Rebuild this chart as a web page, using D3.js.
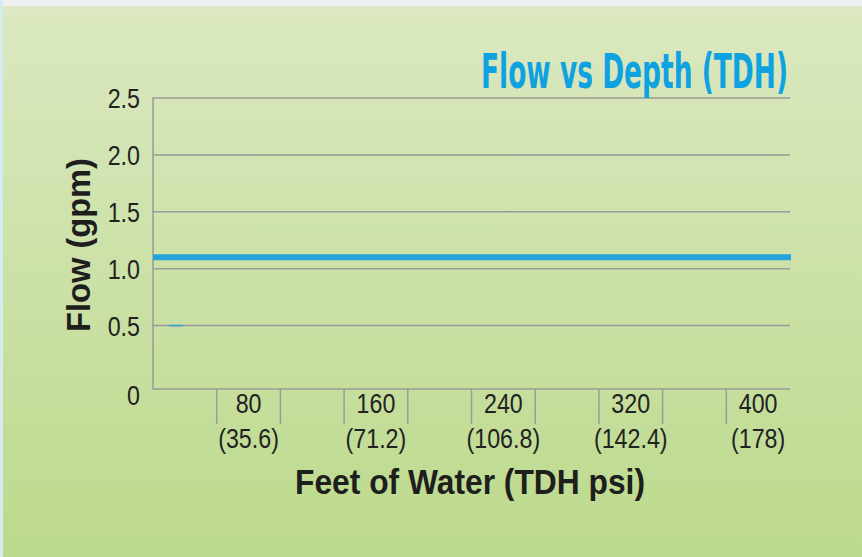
<!DOCTYPE html>
<html>
<head>
<meta charset="utf-8">
<script src="https://cdn.jsdelivr.net/npm/d3@7"></script>
<style>
  body { margin: 0; padding: 0; background: #eef0f2; }
  svg { display: block; }
</style>
</head>
<body>
<div id="chart"></div>
<script>
var width = 862;
var height = 557;

// data
var depthFeet = [80, 160, 240, 320, 400];
var depthPsi = ["(35.6)", "(71.2)", "(106.8)", "(142.4)", "(178)"];
var flowValues = [1.1, 1.1, 1.1, 1.1, 1.1];
var yTicks = [0, 0.5, 1.0, 1.5, 2.0, 2.5];

var plotLeft = 153, plotRight = 790, plotTop = 98, zeroY = 382.5, baseY = 389;

var svg = d3.select("#chart")
  .append("svg")
  .attr("width", width)
  .attr("height", height);

var defs = svg.append("defs");
var grad = defs.append("linearGradient")
  .attr("id", "bg")
  .attr("x1", 0).attr("y1", 0).attr("x2", 0).attr("y2", 1);
grad.append("stop").attr("offset", "0%").attr("stop-color", "#dbe8c1");
grad.append("stop").attr("offset", "100%").attr("stop-color", "#bcda8c");

svg.append("rect").attr("width", width).attr("height", height).attr("fill", "#eef0f2");
svg.append("rect").attr("x", 0).attr("y", 0).attr("width", 3).attr("height", height).attr("fill", "#d4ecf0");
svg.append("rect").attr("x", 3).attr("y", 6).attr("width", width - 3).attr("height", height - 6).attr("fill", "url(#bg)");

var y = d3.scaleLinear().domain([0, 2.5]).range([zeroY, plotTop]);

var x = d3.scaleBand()
  .domain(depthFeet)
  .range([plotLeft, plotRight])
  .paddingInner(0.5)
  .paddingOuter(0.25)
  .align(1);

var grey = "#9a9a9a";
var tickFont = "'Liberation Sans', Arial, sans-serif";

// squeeze text a bit, the original uses a condensed face
function narrow(sel, k) {
  sel.each(function() {
    var w = this.getComputedTextLength();
    d3.select(this).attr("textLength", w * k).attr("lengthAdjust", "spacingAndGlyphs");
  });
}

// gridlines (not at 0, the base line is drawn lower)
svg.append("g").selectAll("line")
  .data(yTicks.filter(function(d) { return d > 0; }))
  .enter().append("line")
  .attr("x1", plotLeft).attr("x2", plotRight)
  .attr("y1", function(d) { return y(d); })
  .attr("y2", function(d) { return y(d); })
  .attr("stroke", grey)
  .attr("stroke-width", 1.5);

// left axis + base line
svg.append("line").attr("x1", plotLeft).attr("x2", plotLeft).attr("y1", plotTop - 0.75).attr("y2", baseY + 0.75)
  .attr("stroke", grey).attr("stroke-width", 1.5);
svg.append("line").attr("x1", plotLeft).attr("x2", plotRight).attr("y1", baseY).attr("y2", baseY)
  .attr("stroke", grey).attr("stroke-width", 1.5);

// little blue mark on the 0.5 line
svg.append("line").attr("x1", 169).attr("x2", 183).attr("y1", y(0.5)).attr("y2", y(0.5))
  .attr("stroke", "#2aa0d8").attr("stroke-width", 1.5);

// y tick labels
svg.append("g").selectAll("text")
  .data(yTicks)
  .enter().append("text")
  .attr("x", 140)
  .attr("y", function(d) { return d === 0 ? baseY + 16 : y(d) + 10; })
  .attr("text-anchor", "end")
  .attr("font-family", tickFont)
  .attr("font-size", 27)
  .attr("fill", "#222")
  .text(function(d) { return d === 0 ? "0" : d.toFixed(1); })
  .call(narrow, 0.86);

// x brackets
var edges = [];
depthFeet.forEach(function(d) {
  edges.push(x(d));
  if (x(d) + x.bandwidth() < plotRight - 2) edges.push(x(d) + x.bandwidth());
});
svg.append("g").selectAll("line")
  .data(edges)
  .enter().append("line")
  .attr("x1", function(d) { return d; })
  .attr("x2", function(d) { return d; })
  .attr("y1", baseY).attr("y2", 424)
  .attr("stroke", grey).attr("stroke-width", 1.5);

var xl = svg.append("g").selectAll("g")
  .data(depthFeet)
  .enter().append("g")
  .attr("font-family", tickFont)
  .attr("font-size", 27)
  .attr("fill", "#222")
  .attr("text-anchor", "middle");
xl.append("text")
  .attr("x", function(d) { return x(d) + x.bandwidth() / 2; })
  .attr("y", 413)
  .text(function(d) { return d; })
  .call(narrow, 0.86);
xl.append("text")
  .attr("x", function(d) { return x(d) + x.bandwidth() / 2; })
  .attr("y", 448)
  .text(function(d, i) { return depthPsi[i]; })
  .call(narrow, 0.86);

// flow line
var lineX = d3.scaleLinear().domain([0, flowValues.length - 1]).range([plotLeft, plotRight + 1]);
svg.append("path")
  .datum(flowValues)
  .attr("d", d3.line()
    .x(function(d, i) { return lineX(i); })
    .y(function(d) { return y(d); }))
  .attr("fill", "none")
  .attr("stroke", "#27a3dc")
  .attr("stroke-width", 6);

// title
svg.append("text")
  .attr("x", 481).attr("y", 88)
  .attr("font-family", "'DejaVu Sans Condensed', 'Liberation Sans', sans-serif")
  .attr("font-weight", "bold")
  .attr("font-size", 48)
  .attr("fill", "#0ea3e0")
  .attr("textLength", 307)
  .attr("lengthAdjust", "spacingAndGlyphs")
  .text("Flow vs Depth (TDH)");

// axis titles
svg.append("text")
  .attr("x", 295).attr("y", 494)
  .attr("font-family", "'Liberation Sans', Arial, sans-serif")
  .attr("font-weight", "bold")
  .attr("font-size", 35)
  .attr("fill", "#1e1e1e")
  .attr("textLength", 350)
  .attr("lengthAdjust", "spacingAndGlyphs")
  .text("Feet of Water (TDH psi)");

svg.append("text")
  .attr("transform", "translate(90,332) rotate(-90)")
  .attr("font-family", "'Liberation Sans', Arial, sans-serif")
  .attr("font-weight", "bold")
  .attr("font-size", 33)
  .attr("fill", "#1e1e1e")
  .attr("textLength", 174)
  .attr("lengthAdjust", "spacingAndGlyphs")
  .text("Flow (gpm)");
</script>
</body>
</html>
